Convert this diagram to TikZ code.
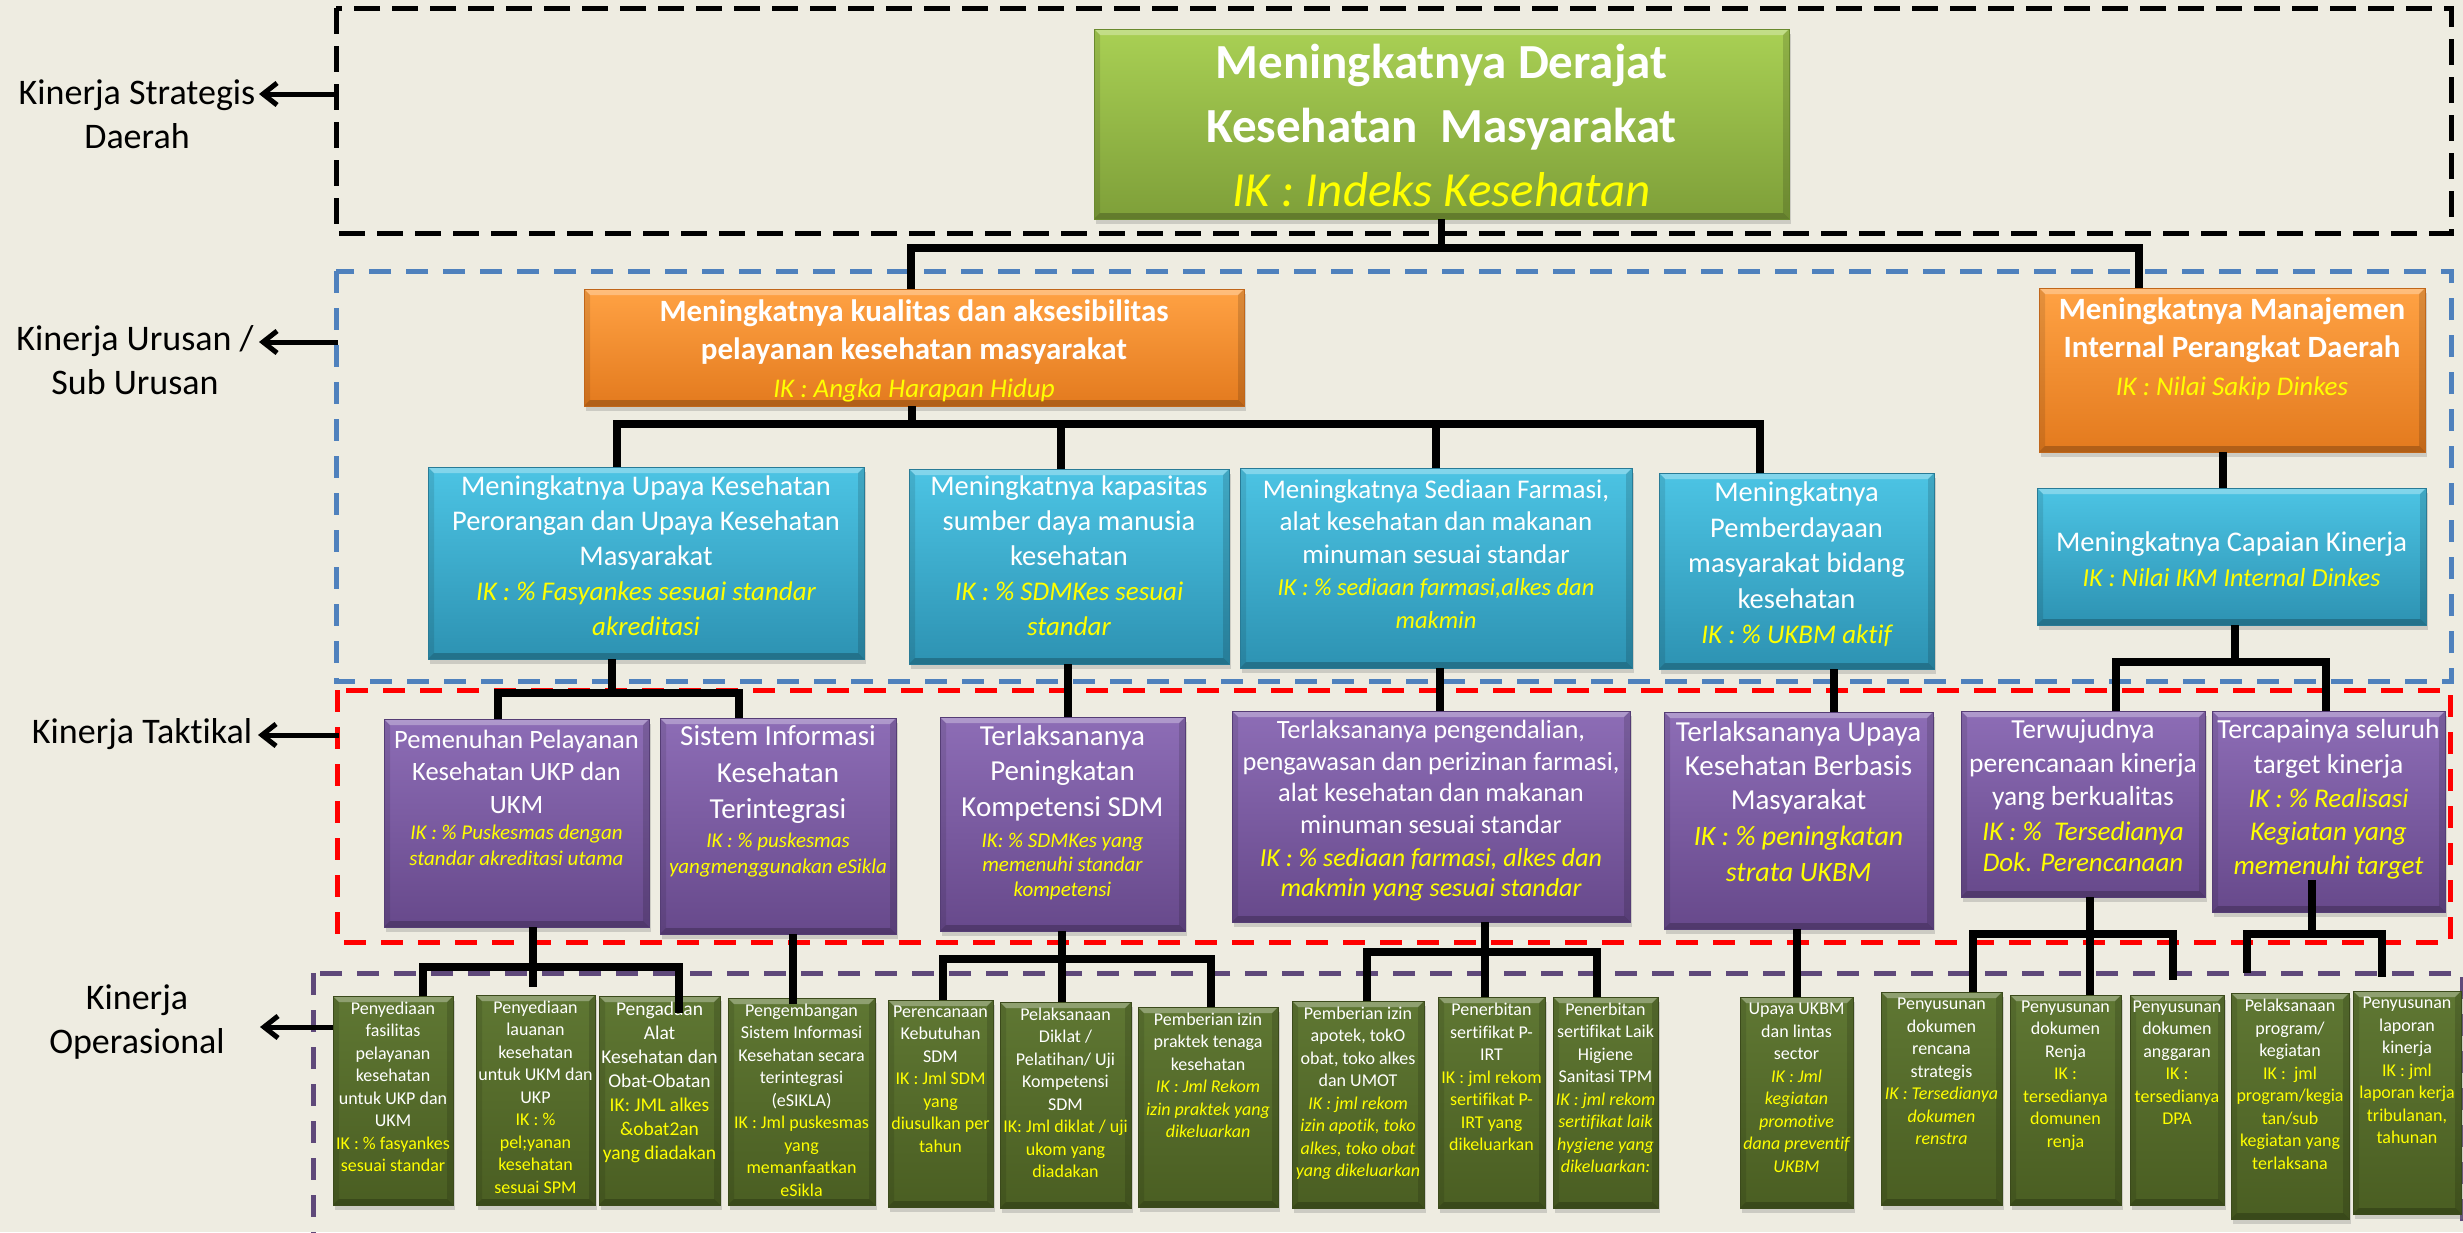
\documentclass[tikz,border=0pt]{standalone}
\usepackage{fontspec}
\setmainfont{Carlito}[Ligatures={NoCommon,NoRequired,NoContextual},Contextuals=NoAlternate]
\usetikzlibrary{arrows.meta,shadows}
\definecolor{bgc}{HTML}{EEECE1}
\definecolor{ikyel}{HTML}{FFFF00}
\definecolor{frblue}{HTML}{4F81BD}
\definecolor{frred}{HTML}{FF0000}
\definecolor{frpurp}{HTML}{5F497A}
\definecolor{grnT}{HTML}{A9D054}
\definecolor{grnB}{HTML}{7E9F39}
\definecolor{grnD}{HTML}{6A8A2E}
\definecolor{orT}{HTML}{FFA244}
\definecolor{orB}{HTML}{E37A1E}
\definecolor{orD}{HTML}{C0661A}
\definecolor{blT}{HTML}{4CC4E4}
\definecolor{blB}{HTML}{2D92B2}
\definecolor{blD}{HTML}{287B96}
\definecolor{puT}{HTML}{8D6DB6}
\definecolor{puB}{HTML}{67498B}
\definecolor{puD}{HTML}{553D75}
\definecolor{olT}{HTML}{5F7733}
\definecolor{olB}{HTML}{4A5E22}
\definecolor{olD}{HTML}{3B4A1B}
\newcommand\mainf[3]{\fontsize{#1}{#2}\selectfont\vspace*{#3pt}}
\newcommand\ikl[3]{\par\vspace{#3pt}\normalfont\fontsize{#1}{#2}\selectfont\itshape\color{ikyel}}
\newcommand\ikup[3]{\par\vspace{#3pt}\normalfont\fontsize{#1}{#2}\selectfont\color{ikyel}}
\newcommand\boxnode[7]{\node[#1,anchor=north west,inner sep=0pt,outer sep=0pt] (#2) at (#3,#4) {\parbox[c][\dimexpr#6pt-#4pt\relax][t]{\dimexpr#5pt-#3pt\relax}{\centering\leftskip=-14pt plus 1fil\rightskip=-14pt plus 1fil\relax #7\par}};}
\tikzset{
 bev/.style={path picture={
  \fill[white,opacity=.3] (path picture bounding box.north west) -- (path picture bounding box.north east) -- ([xshift=-6pt,yshift=-6pt]path picture bounding box.north east) -- ([xshift=6pt,yshift=-6pt]path picture bounding box.north west) -- cycle;
  \fill[black,opacity=.22] (path picture bounding box.south west) -- (path picture bounding box.south east) -- ([xshift=-6pt,yshift=6pt]path picture bounding box.south east) -- ([xshift=6pt,yshift=6pt]path picture bounding box.south west) -- cycle;
  \fill[black,opacity=.1] (path picture bounding box.north west) -- ([xshift=6pt,yshift=-6pt]path picture bounding box.north west) -- ([xshift=6pt,yshift=6pt]path picture bounding box.south west) -- (path picture bounding box.south west) -- cycle;
  \fill[black,opacity=.14] (path picture bounding box.north east) -- ([xshift=-6pt,yshift=-6pt]path picture bounding box.north east) -- ([xshift=-6pt,yshift=6pt]path picture bounding box.south east) -- (path picture bounding box.south east) -- cycle;
 }},
 boxbase/.style={bev, drop shadow={shadow xshift=2pt,shadow yshift=-5pt,opacity=.3}, line width=1pt, text=white},
 topbox/.style={boxbase, draw=grnD, top color=grnT, bottom color=grnB},
 obox/.style={boxbase, draw=orD, top color=orT, bottom color=orB},
 bluebox/.style={boxbase, draw=blD, top color=blT, bottom color=blB},
 pbox/.style={boxbase, draw=puD, top color=puT, bottom color=puB},
 olbox/.style={boxbase, draw=olD, top color=olT, bottom color=olB},
 lvlframe/.style={line width=5pt, dash pattern=on 22pt off 15pt},
 conn/.style={line width=7.5pt, black},
 larr/.style={line width=5pt, black, -{Straight Barb[length=14pt,width=22pt]}},
 lab/.style={align=center, inner sep=0pt, text=black, font=\fontsize{36}{44}\selectfont}
}
\begin{document}
\begin{tikzpicture}[x=1pt,y=-1pt]
\useasboundingbox (0,0) rectangle (2463,1232);
\clip (0,0) rectangle (2463,1232);
\fill[bgc] (0,0) rectangle (2463,1232);
% level frames
\draw[lvlframe, black, dash pattern=on 26pt off 12pt] (336,8) rectangle (2451,233);
\draw[lvlframe, frblue] (336,271) rectangle (2451,681);
\draw[lvlframe, frred] (337,690) rectangle (2450,942);
\draw[lvlframe, frpurp] (313,973) rectangle (2462,1262);
% level 1
\boxnode{topbox}{top}{1094}{29}{1789}{219}{\mainf{49}{64}{15}\bfseries Meningkatnya Derajat\\Kesehatan~~Masyarakat\ikl{49}{64}{0}IK : Indeks Kesehatan}
% level 2
\boxnode{obox}{orL}{584}{289}{1244}{406}{\mainf{31}{38}{11}\bfseries Meningkatnya kualitas dan aksesibilitas\\pelayanan kesehatan masyarakat\ikl{27}{38}{0}IK : Angka Harapan Hidup}
\boxnode{obox}{orR}{2039}{288}{2425}{452}{\mainf{31}{38}{10}\bfseries Meningkatnya Manajemen\\Internal Perangkat Daerah\ikl{27}{38}{0}IK : Nilai Sakip Dinkes}
\boxnode{bluebox}{bl1}{428}{467}{864}{659}{\mainf{28.5}{35}{9}Meningkatnya Upaya Kesehatan\\Perorangan dan Upaya Kesehatan\\Masyarakat\ikl{27}{35}{0}IK : \% Fasyankes sesuai standar\\akreditasi}
\boxnode{bluebox}{bl2}{909}{469}{1229}{664}{\mainf{28.5}{35}{7}Meningkatnya kapasitas\\sumber daya manusia\\kesehatan\ikl{27}{35}{0}IK : \% SDMKes sesuai\\standar}
\boxnode{bluebox}{bl3}{1240}{468}{1632}{668}{\mainf{27}{32.5}{11.5}Meningkatnya Sediaan Farmasi,\\alat kesehatan dan makanan\\minuman sesuai standar\ikl{24.5}{32.5}{0}IK : \% sediaan farmasi,alkes dan\\makmin}
\boxnode{bluebox}{bl4}{1659}{473}{1934}{669}{\mainf{28.5}{35.5}{9}Meningkatnya\\Pemberdayaan\\masyarakat bidang\\kesehatan\ikl{27}{35.5}{0}IK : \% UKBM aktif}
\boxnode{bluebox}{bl5}{2037}{488}{2426}{625}{\mainf{28.5}{35}{44}Meningkatnya Capaian Kinerja\ikl{26}{35}{0}IK : Nilai IKM Internal Dinkes}
% level 3
\boxnode{pbox}{p1}{384}{719}{649}{927}{\mainf{26.5}{32.5}{11}Pemenuhan Pelayanan\\Kesehatan UKP dan\\UKM\ikl{21}{26}{0}IK : \% Puskesmas dengan\\standar akreditasi utama}
\boxnode{pbox}{p2}{660}{718}{896}{934}{\mainf{29}{36.5}{8}Sistem Informasi\\Kesehatan\\Terintegrasi\ikl{21}{26}{3}IK : \% puskesmas\\yangmenggunakan eSikla}
\boxnode{pbox}{p3}{940}{717}{1185}{931}{\mainf{29}{35.5}{8}Terlaksananya\\Peningkatan\\Kompetensi SDM\ikl{21}{24.5}{6.5}IK: \% SDMKes yang\\memenuhi standar\\kompetensi}
\boxnode{pbox}{p4}{1232}{711}{1630}{922}{\mainf{26.4}{31.7}{9}Terlaksananya pengendalian,\\pengawasan dan perizinan farmasi,\\alat kesehatan dan makanan\\minuman sesuai standar\ikl{26}{30}{3}IK : \% sediaan farmasi, alkes dan\\makmin yang sesuai standar}
\boxnode{pbox}{p5}{1664}{712}{1933}{929}{\mainf{29}{34}{9}Terlaksananya Upaya\\Kesehatan Berbasis\\Masyarakat\ikl{28}{36}{0}IK : \% peningkatan\\strata UKBM}
\boxnode{pbox}{p6}{1961}{711}{2205}{897}{\mainf{27.5}{33.5}{8.5}Terwujudnya\\perencanaan kinerja\\yang berkualitas\ikl{27}{31}{4}IK : \%~~Tersedianya\\Dok. Perencanaan}
\boxnode{pbox}{p7}{2212}{711}{2445}{912}{\mainf{27.6}{35}{8.5}Tercapainya seluruh\\target kinerja\ikl{27}{33.5}{0}IK : \% Realisasi\\Kegiatan yang\\memenuhi target}
% level 4
\boxnode{olbox}{g1}{333}{996}{453}{1205}{\mainf{18}{22.5}{5.5}Penyediaan\\fasilitas\\pelayanan\\kesehatan\\untuk UKP dan\\UKM\ikup{18}{22.5}{0}IK : \% fasyankes\\sesuai standar}
\boxnode{olbox}{g2}{476}{995}{595}{1205}{\mainf{18}{22.5}{5.5}Penyediaan\\lauanan\\kesehatan\\untuk UKM dan\\UKP\ikup{18}{22.5}{0}IK : \%\\pel;yanan\\kesehatan\\sesuai SPM}
\boxnode{olbox}{g3}{599}{996}{720}{1205}{\mainf{19.5}{24}{5.5}Pengadaan\\Alat\\Kesehatan dan\\Obat-Obatan\ikup{19.5}{24}{0}IK: JML alkes\\\&obat2an\\yang diadakan}
\boxnode{olbox}{g4}{728}{998}{875}{1205}{\mainf{18}{22.5}{5.5}Pengembangan\\Sistem Informasi\\Kesehatan secara\\terintegrasi\\(eSIKLA)\ikup{18}{22.5}{0}IK : Jml puskesmas\\yang\\memanfaatkan\\eSikla}
\boxnode{olbox}{g5}{888}{1000}{993}{1207}{\mainf{18}{22.5}{5.5}Perencanaan\\Kebutuhan\\SDM\ikup{18}{22.5}{0}IK : Jml SDM\\yang\\diusulkan per\\tahun}
\boxnode{olbox}{g6}{1000}{1002}{1131}{1208}{\mainf{18}{22.5}{5.5}Pelaksanaan\\Diklat /\\Pelatihan/ Uji\\Kompetensi\\SDM\ikup{18}{22.5}{0}IK: Jml diklat / uji\\ukom yang\\diadakan}
\boxnode{olbox}{g7}{1138}{1007}{1278}{1207}{\mainf{18}{22.5}{5.5}Pemberian izin\\praktek tenaga\\kesehatan\ikl{18}{22.5}{0}IK : Jml Rekom\\izin praktek yang\\dikeluarkan}
\boxnode{olbox}{g8}{1292}{1001}{1424}{1208}{\mainf{18}{22.5}{5.5}Pemberian izin\\apotek, tokO\\obat, toko alkes\\dan UMOT\ikl{18}{22.5}{0}IK : jml rekom\\izin apotik, toko\\alkes, toko obat\\yang dikeluarkan}
\boxnode{olbox}{g9}{1438}{997}{1545}{1208}{\mainf{18}{22.5}{6}Penerbitan\\sertifikat P-\\IRT\ikup{18}{22.5}{0}IK : jml rekom\\sertifikat P-\\IRT yang\\dikeluarkan}
\boxnode{olbox}{g10}{1553}{997}{1658}{1208}{\mainf{18}{22.5}{5.5}Penerbitan\\sertifikat Laik\\Higiene\\Sanitasi TPM\ikl{18}{22.5}{0}IK : jml rekom\\sertifikat laik\\hygiene yang\\dikeluarkan:}
\boxnode{olbox}{g11}{1740}{997}{1853}{1208}{\mainf{18}{22.5}{6}Upaya UKBM\\dan lintas\\sector\ikl{18}{22.5}{0}IK : Jml\\kegiatan\\promotive\\dana preventif\\UKBM}
\boxnode{olbox}{g12}{1881}{992}{2002}{1205}{\mainf{18}{22.5}{6}Penyusunan\\dokumen\\rencana\\strategis\ikl{18}{22.5}{0}IK : Tersedianya\\dokumen\\renstra}
\boxnode{olbox}{g13}{2010}{995}{2121}{1205}{\mainf{18}{22.5}{5.5}Penyusunan\\dokumen\\Renja\ikup{18}{22.5}{0}IK :\\tersedianya\\domunen\\renja}
\boxnode{olbox}{g14}{2130}{995}{2224}{1205}{\mainf{18}{22.5}{5.5}Penyusunan\\dokumen\\anggaran\ikup{18}{22.5}{0}IK :\\tersedianya\\DPA}
\boxnode{olbox}{g15}{2231}{993}{2349}{1219}{\mainf{18}{22.5}{6}Pelaksanaan\\program/\\kegiatan\ikup{18}{22.5}{0}IK :~~jml\\program/kegia\\tan/sub\\kegiatan yang\\terlaksana}
\boxnode{olbox}{g16}{2353}{991}{2461}{1214}{\mainf{18}{22.5}{6}Penyusunan\\laporan\\kinerja\ikup{18}{22.5}{0}IK : jml\\laporan kerja\\tribulanan,\\tahunan}
% connectors
\coordinate (b1l) at (911,248); \coordinate (b1r) at (2139,248);
\draw[conn] (top.south) -- (top.south |- b1l);
\draw[conn] (orL.north -| b1l) -- (b1l) -- (b1r) -- (orR.north -| b1r);
\coordinate (b2) at (912,424); \coordinate (b2a) at (617,424); \coordinate (b2b) at (1061,424);
\coordinate (b2c) at (1436,424); \coordinate (b2d) at (1760,424);
\draw[conn] (orL.south -| b2) -- (b2);
\draw[conn] (bl1.north -| b2a) -- (b2a) -- (b2d) -- (bl4.north -| b2d);
\draw[conn] (b2b) -- (bl2.north -| b2b);
\draw[conn] (b2c) -- (bl3.north -| b2c);
\coordinate (b3) at (2223,470);
\draw[conn] (orR.south -| b3) -- (bl5.north -| b3);
\coordinate (b4) at (2235,662); \coordinate (b4a) at (2116,662); \coordinate (b4b) at (2326,662);
\draw[conn] (bl5.south -| b4) -- (b4);
\draw[conn] (p6.north -| b4a) -- (b4a) -- (b4b) -- (p7.north -| b4b);
\coordinate (b5) at (612,693); \coordinate (b5a) at (498,693); \coordinate (b5b) at (739,693);
\draw[conn] (bl1.south -| b5) -- (b5);
\draw[conn] (p1.north -| b5a) -- (b5a) -- (b5b) -- (p2.north -| b5b);
\coordinate (b6) at (1068,690); \draw[conn] (bl2.south -| b6) -- (p3.north -| b6);
\coordinate (b7) at (1440,690); \draw[conn] (bl3.south -| b7) -- (p4.north -| b7);
\coordinate (b8) at (1834,690); \draw[conn] (bl4.south -| b8) -- (p5.north -| b8);
\coordinate (b9) at (533,987); \coordinate (b9a) at (423,967); \coordinate (b9b) at (679,967); \coordinate (b9c) at (679,1013);
\draw[conn] (p1.south -| b9) -- (b9);
\draw[conn] (g1.north -| b9a) -- (b9a) -- (b9b) -- (b9c);
\coordinate (b10) at (793,1004); \draw[conn] (p2.south -| b10) -- (b10);
\coordinate (b11) at (1062,959); \coordinate (b11a) at (943,959); \coordinate (b11b) at (1211,959);
\draw[conn] (p3.south -| b11) -- (g6.north -| b11);
\draw[conn] (g5.north -| b11a) -- (b11a) -- (b11b) -- (g7.north -| b11b);
\coordinate (b12) at (1485,952); \coordinate (b12a) at (1367,952); \coordinate (b12b) at (1597,952);
\draw[conn] (p4.south -| b12) -- (g9.north -| b12);
\draw[conn] (g8.north -| b12a) -- (b12a) -- (b12b) -- (g10.north -| b12b);
\coordinate (b13) at (1797,960); \draw[conn] (p5.south -| b13) -- (g11.north -| b13);
\coordinate (b14) at (2090,934); \coordinate (b14a) at (1973,934); \coordinate (b14b) at (2173,934); \coordinate (b14c) at (2173,980);
\draw[conn] (p6.south -| b14) -- (g13.north -| b14);
\draw[conn] (g12.north -| b14a) -- (b14a) -- (b14b) -- (b14c);
\coordinate (b15) at (2312,934); \coordinate (b15t) at (2312,880);
\coordinate (b15a) at (2247,973); \coordinate (b15b) at (2247,934); \coordinate (b15c) at (2382,934); \coordinate (b15d) at (2382,977);
\draw[conn] (b15t) -- (b15);
\draw[conn] (b15a) -- (b15b) -- (b15c) -- (b15d);
% level labels
\node[lab] (lab1) at (137,114) {Kinerja Strategis\\Daerah};
\node[lab] (lab2) at (135,360) {Kinerja Urusan /\\Sub Urusan};
\node[lab] (lab3) at (142,734) {Kinerja Taktikal};
\node[lab] (lab4) at (137,1022) {Kinerja\\Operasional};
\coordinate (a1s) at (338,94); \coordinate (a1e) at (259,94);
\coordinate (a2s) at (338,342); \coordinate (a2e) at (259,342);
\coordinate (a3s) at (339,735); \coordinate (a3e) at (258,735);
\coordinate (a4s) at (g1.west |- 0,1027); \coordinate (a4e) at (260,1027);
\draw[larr] (a1s) -- (a1e);
\draw[larr] (a2s) -- (a2e);
\draw[larr] (a3s) -- (a3e);
\draw[larr] (a4s) -- (a4e);
\end{tikzpicture}
\end{document}
